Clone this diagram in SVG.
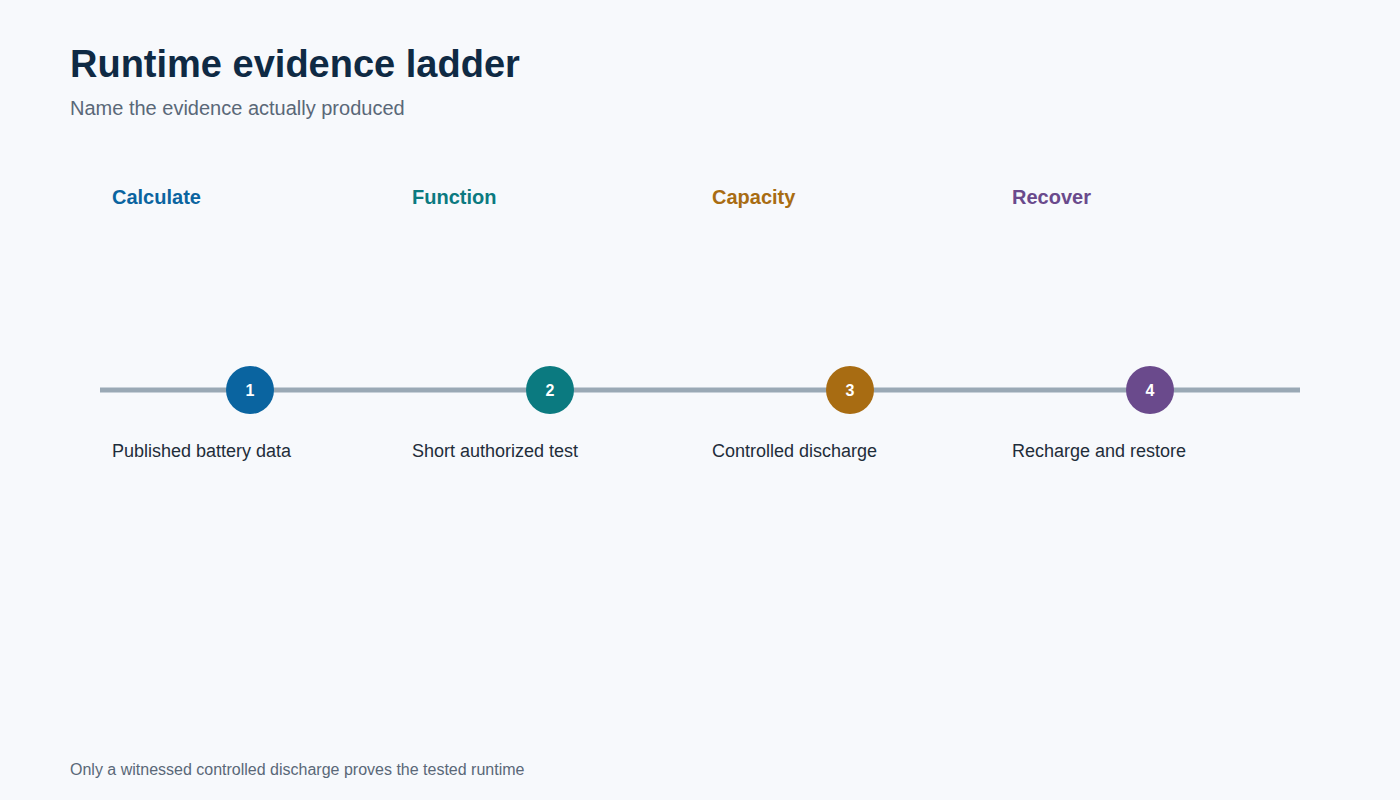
<svg xmlns="http://www.w3.org/2000/svg" width="1400" height="800" viewBox="0 0 1400 800">
<style>
text{font-family:"Liberation Sans",Arial,sans-serif}
.h{font-size:20px;font-weight:bold}
.n{font-size:16px;font-weight:bold;fill:#fff}
.d{font-size:18px;fill:#1f2d3a}
</style>
<rect width="1400" height="800" fill="#f7f9fc"/>
<text x="70" y="77" font-size="38" font-weight="bold" fill="#0f2a44">Runtime evidence ladder</text>
<text x="70" y="115" font-size="20" fill="#5a6878">Name the evidence actually produced</text>
<g id="connectors"><line x1="100" y1="390" x2="1300" y2="390" stroke="#9aa9b5" stroke-width="5"/></g>
<g id="n1"><text class="h" x="112" y="204" fill="#0a64a0">Calculate</text><circle cx="250" cy="390" r="24" fill="#0a64a0"/><text class="n" x="250" y="396" text-anchor="middle">1</text><text class="d" x="112" y="457">Published battery data</text></g>
<g id="n2"><text class="h" x="412" y="204" fill="#0b7a80">Function</text><circle cx="550" cy="390" r="24" fill="#0b7a80"/><text class="n" x="550" y="396" text-anchor="middle">2</text><text class="d" x="412" y="457">Short authorized test</text></g>
<g id="n3"><text class="h" x="712" y="204" fill="#a86c12">Capacity</text><circle cx="850" cy="390" r="24" fill="#a86c12"/><text class="n" x="850" y="396" text-anchor="middle">3</text><text class="d" x="712" y="457">Controlled discharge</text></g>
<g id="n4"><text class="h" x="1012" y="204" fill="#6a4a8c">Recover</text><circle cx="1150" cy="390" r="24" fill="#6a4a8c"/><text class="n" x="1150" y="396" text-anchor="middle">4</text><text class="d" x="1012" y="457">Recharge and restore</text></g>
<text x="70" y="775" font-size="16" fill="#5a6878">Only a witnessed controlled discharge proves the tested runtime</text>
</svg>
